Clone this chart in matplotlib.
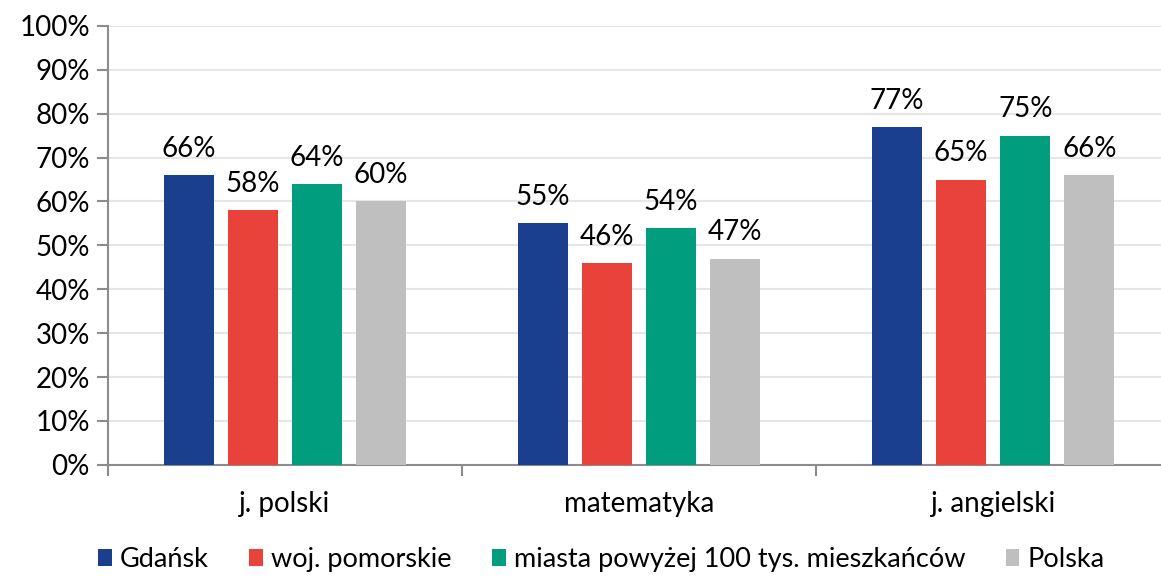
import matplotlib.pyplot as plt
import numpy as np

plt.rcParams['font.family'] = ['Lato', 'DejaVu Sans']

categories = ["j. polski", "matematyka", "j. angielski"]
series = ["Gdańsk", "woj. pomorskie", "miasta powyżej 100 tys. mieszkańców", "Polska"]
values = [
    [66, 55, 77],
    [58, 46, 65],
    [64, 54, 75],
    [60, 47, 66],
]
colors = ["#1a3f8f", "#e8423a", "#009e7e", "#bfbfbf"]

fig = plt.figure(figsize=(11.61, 5.76), dpi=100)
ax = fig.add_axes([0.093, 0.193, 0.915, 0.762])

centers = np.arange(len(categories)) + 0.5
width = 0.141
step = 0.181
for i, (name, vals, col) in enumerate(zip(series, values, colors)):
    x = centers + (i - 1.5) * step
    bars = ax.bar(x, vals, width=width, color=col, label=name, zorder=3)
    for b, v in zip(bars, vals):
        ax.text(b.get_x() + b.get_width() / 2, v + 3.0, f"{v}%",
                ha="center", va="bottom", fontsize=20)

ax.set_xlim(0, 3)
ax.set_ylim(0, 100)
ax.set_yticks(range(0, 101, 10))
ax.set_yticklabels([f"{t}%" for t in range(0, 101, 10)], fontsize=20)
ax.yaxis.grid(True, color="#e6e6e6", linewidth=1.5, zorder=0)

ax.set_xticks([0, 1, 2, 3])
ax.set_xticklabels([])
ax.set_xticks(centers, minor=True)
ax.set_xticklabels(categories, minor=True, fontsize=20)
ax.tick_params(axis="x", which="minor", length=0, pad=19)
ax.tick_params(axis="x", which="major", length=8, color="#8c8c8c", width=1.5)
ax.tick_params(axis="y", length=8, color="#8c8c8c", width=1.5, pad=5)

for s in ["top", "right"]:
    ax.spines[s].set_visible(False)
for s in ["left", "bottom"]:
    ax.spines[s].set_color("#8c8c8c")
    ax.spines[s].set_linewidth(1.5)

fig.legend(loc="lower center", bbox_to_anchor=(0.518, -0.036), ncol=4, frameon=False,
           fontsize=19.5, handlelength=0.5, handleheight=0.6, handletextpad=0.3,
           columnspacing=1.5)

fig.savefig("out.png", dpi=100)
